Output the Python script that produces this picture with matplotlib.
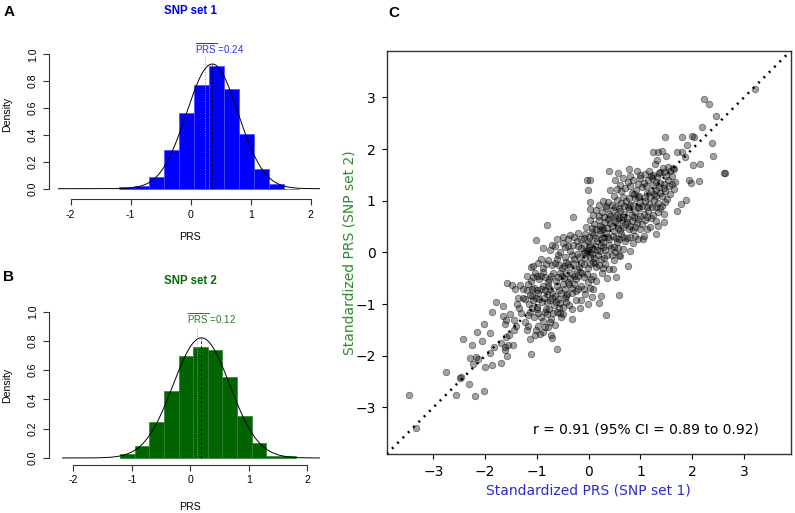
"""Two SNP-set PRS histograms (A, B) and the standardized PRS agreement scatter (C)."""
import numpy as np
import matplotlib.pyplot as plt

plt.rcParams["mathtext.fontset"] = "custom"
plt.rcParams["mathtext.rm"] = "Liberation Sans"

R_FONT = "Liberation Sans"

BIN_EDGES = [-1.2, -0.95, -0.7, -0.45, -0.2, 0.05, 0.3, 0.55, 0.8, 1.05, 1.3, 1.55, 1.8]
SET1_DENSITY = [0.01, 0.02, 0.09, 0.29, 0.565, 0.77, 0.91, 0.74, 0.405, 0.145, 0.037, 0.0]
SET2_DENSITY = [0.03, 0.08, 0.245, 0.46, 0.695, 0.755, 0.74, 0.555, 0.287, 0.10, 0.012, 0.012]
SET1_FIT = (0.36, 0.43)   # normal fit: mean, sd
SET2_FIT = (0.19, 0.486)
SET1_MEAN = 0.24
SET2_MEAN = 0.12

HIST_XTICKS = [-2, -1, 0, 1, 2]
HIST_XTICKLABELS = ["-2", "-1", "0", "1", "2"]
HIST_YTICKS = [0.0, 0.2, 0.4, 0.6, 0.8, 1.0]

# standardized PRS, (SNP set 1, SNP set 2) per individual
PRS_PAIRS = [
    # sparse upper-right
    (3.22, 3.16), (2.22, 2.96), (2.32, 2.88), (2.45, 2.63), (2.19, 2.43), (2.38, 2.11),
    (2.40, 1.86), (2.61, 1.54), (2.64, 1.54), (1.99, 2.25), (2.04, 2.23), (1.80, 2.23),
    (1.47, 2.23), (1.90, 2.07), (1.70, 1.95), (1.80, 1.95), (1.85, 1.85), (2.01, 1.70),
    (2.15, 1.71), (1.94, 1.40), (1.97, 1.35), (2.13, 1.38), (1.88, 1.01), (1.79, 0.94),
    (1.70, 0.81), (1.45, 0.59), (1.29, 0.35), (1.33, 0.51), (1.24, 1.94), (1.33, 1.95),
    (1.42, 1.97), (1.50, 1.87), (1.32, 1.79), (1.28, 1.71), (1.43, 1.64), (1.53, 1.66),
    (1.63, 1.64), (1.35, 1.53),
    # sparse lower-left
    (-3.46, -2.76), (-3.33, -3.39), (-2.76, -2.31), (-2.57, -2.76), (-2.48, -2.43),
    (-2.46, -2.42), (-2.31, -2.55), (-2.19, -2.77), (-2.03, -2.68), (-2.42, -1.68),
    (-2.25, -1.79), (-2.15, -1.54), (-2.03, -1.38), (-2.06, -1.72), (-2.30, -2.05),
    (-2.23, -2.16), (-2.17, -2.02), (-2.14, -2.07), (-2.01, -2.21), (-1.91, -1.94),
    (-1.86, -2.17), (-1.91, -1.55), (-1.83, -1.83), (-1.70, -2.13), (-1.79, -0.96),
    (-1.86, -1.15), (-1.66, -1.03), (-1.70, -1.76), (-1.61, -1.83), (-1.55, -1.79),
    (-1.62, -1.89), (-1.57, -2.01), (-1.47, -1.79), (-1.65, -1.23), (-1.59, -1.31),
    (-1.62, -1.39), (-1.52, -1.19), (-1.44, -1.31), (-1.59, -1.63), (-1.54, -1.59),
    (-1.41, -1.43), (-1.45, -1.50), (-1.34, -1.08), (-1.39, -0.99), (-1.57, -0.60),
    (-1.48, -0.63), (-1.43, -0.70), (-1.32, -0.63), (-1.26, -0.70), (-1.20, -0.73),
    (-1.36, -0.88), (-1.26, -0.88), (-1.30, -1.18), (-1.23, -1.34), (-1.20, -1.50),
    (-1.17, -1.43), (-1.12, -1.97), (-1.14, -1.68), (-1.04, -1.60), (-1.01, -1.50),
    (-0.94, -1.57), (-0.88, -1.54), (-0.78, -1.45), (-0.70, -1.66), (-0.72, -1.60),
    (-0.61, -1.87),
    # scattered off the band
    (-1.12, -0.28), (-1.08, -0.26), (-1.01, 0.24), (-0.81, 0.53), (-0.62, 0.26),
    (-0.49, 0.29), (-0.37, 0.34), (-0.31, 0.69), (-0.03, 1.40), (0.03, 1.40),
    (-0.02, 1.21), (0.03, 0.97), (0.03, 0.84), (0.40, 1.58), (0.34, -1.21),
    (0.06, -0.86), (0.19, -0.97), (0.59, -0.83), (0.52, -0.47), (0.75, -0.26),
    (0.46, -0.33), (0.61, -0.07), (0.80, 0.03), (1.05, 0.26), (-0.17, -1.08),
    (-0.33, -1.29), (-0.49, -1.20), (-0.55, -1.18), (-0.75, -1.34), (-0.65, -1.41),
    (-0.43, -0.84), (-0.33, -0.79), (-0.14, -0.92), (-0.01, -0.99), (0.24, -0.84),
    (0.09, -0.70),
    # dense band, top to bottom
    (0.57, 1.53), (0.77, 1.61), (0.93, 1.57), (1.09, 1.52), (1.17, 1.57), (1.25, 1.50),
    (1.38, 1.55), (1.46, 1.56), (1.57, 1.58), (1.64, 1.61),
    (0.80, 1.48), (1.00, 1.50), (1.20, 1.47), (1.32, 1.46), (1.50, 1.47), (1.60, 1.47),
    (0.51, 1.40), (0.67, 1.44), (0.75, 1.36), (0.86, 1.41), (0.99, 1.43), (1.06, 1.35),
    (1.14, 1.40), (1.22, 1.43), (1.30, 1.37), (1.37, 1.35), (1.45, 1.32), (1.53, 1.40),
    (1.61, 1.33), (1.67, 1.37), (1.45, 1.25),
    (0.60, 1.30), (0.80, 1.28), (0.95, 1.32), (1.10, 1.28), (1.25, 1.30), (1.35, 1.27),
    (1.55, 1.28),
    (0.41, 1.21), (0.54, 1.22), (0.62, 1.18), (0.70, 1.25), (0.83, 1.15), (0.91, 1.20),
    (1.03, 1.26), (1.12, 1.14), (1.21, 1.18), (1.30, 1.21), (1.38, 1.15), (1.48, 1.18),
    (1.56, 1.12), (1.65, 1.23), (1.41, 1.10), (1.52, 1.04),
    (0.48, 1.10), (0.66, 1.08), (0.78, 1.06), (0.88, 1.12), (0.98, 1.10), (1.08, 1.08),
    (1.18, 1.07), (1.30, 1.10), (1.26, 1.13),
    (0.28, 1.00), (0.38, 0.98), (0.45, 0.92), (0.54, 1.02), (0.62, 0.95), (0.72, 1.00),
    (0.80, 0.92), (0.90, 1.05), (0.95, 1.08), (0.99, 0.95), (1.09, 1.00), (1.17, 0.93),
    (1.26, 1.02), (1.33, 0.95), (1.41, 0.90), (1.48, 0.98), (0.96, 0.88),
    (0.20, 0.92), (0.33, 0.90), (0.50, 0.88), (0.58, 0.86), (0.68, 0.90), (0.75, 0.88),
    (0.86, 0.92), (1.02, 0.90), (1.12, 0.88), (1.22, 0.88), (1.30, 0.88),
    (0.15, 0.82), (0.25, 0.78), (0.34, 0.85), (0.40, 0.75), (0.46, 0.82), (0.54, 0.72),
    (0.61, 0.80), (0.68, 0.75), (0.77, 0.83), (0.83, 0.72), (0.90, 0.78), (0.98, 0.85),
    (1.06, 0.74), (1.15, 0.80), (1.25, 0.72), (1.33, 0.78), (1.45, 0.75), (1.38, 0.86),
    (0.08, 0.72), (0.20, 0.70), (0.30, 0.68), (0.42, 0.70), (0.50, 0.68), (0.58, 0.66),
    (0.66, 0.68), (0.74, 0.66), (0.88, 0.68), (1.00, 0.70), (1.12, 0.68), (1.20, 0.66),
    (0.03, 0.63), (0.10, 0.55), (0.19, 0.62), (0.25, 0.50), (0.32, 0.58), (0.38, 0.65),
    (0.45, 0.52), (0.51, 0.60), (0.57, 0.48), (0.64, 0.62), (0.70, 0.54), (0.77, 0.45),
    (0.83, 0.60), (0.90, 0.50), (0.96, 0.65), (1.03, 0.55), (1.09, 0.62), (1.19, 0.50),
    (1.29, 0.60), (0.28, 0.45), (0.61, 0.43), (0.86, 0.44), (1.12, 0.45),
    (-0.05, 0.50), (0.06, 0.48), (0.15, 0.45), (0.22, 0.52), (0.36, 0.48), (0.42, 0.56),
    (0.55, 0.55), (0.66, 0.50), (0.73, 0.58), (0.80, 0.52), (0.93, 0.56), (1.00, 0.45),
    (-0.28, 0.30), (-0.20, 0.38), (-0.14, 0.25), (-0.07, 0.35), (-0.01, 0.22), (0.06, 0.40),
    (0.12, 0.28), (0.21, 0.35), (0.27, 0.20), (0.34, 0.38), (0.40, 0.25), (0.46, 0.32),
    (0.54, 0.20), (0.62, 0.35), (0.70, 0.22), (0.79, 0.30), (0.86, 0.19), (0.96, 0.25),
    (1.06, 0.32), (0.03, 0.17), (0.48, 0.42), (0.22, 0.43),
    (-0.40, 0.25), (-0.22, 0.22), (-0.10, 0.28), (0.00, 0.30), (0.08, 0.34), (0.16, 0.22),
    (0.25, 0.28), (0.30, 0.30), (0.38, 0.30), (0.52, 0.28), (0.58, 0.25), (0.66, 0.30),
    (0.74, 0.28), (0.90, 0.32),
    (-0.70, 0.15), (-0.50, 0.18), (-0.40, 0.12), (-0.20, 0.12), (-0.10, 0.15), (0.00, 0.10),
    (0.08, 0.06), (0.16, 0.05), (0.24, 0.15), (0.32, 0.05), (0.40, 0.15), (0.48, 0.10),
    (0.56, 0.08),
    (-0.88, 0.08), (-0.75, 0.05), (-0.65, 0.12), (-0.55, 0.00), (-0.46, 0.10), (-0.37, 0.02),
    (-0.30, 0.14), (-0.23, -0.03), (-0.15, 0.08), (-0.07, -0.02), (-0.01, 0.05), (0.06, -0.04),
    (0.12, 0.12), (0.21, 0.02), (0.28, 0.10), (0.36, -0.05), (0.43, 0.08), (0.51, 0.00),
    (0.59, -0.06), (0.67, 0.07), (0.03, 0.00), (-0.04, 0.03),
    (-0.60, -0.05), (-0.45, -0.08), (-0.32, -0.05), (-0.18, -0.08), (-0.10, 0.00),
    (0.02, -0.08), (0.10, -0.10), (0.18, -0.05), (0.30, -0.10), (0.45, -0.05),
    (-0.97, -0.20), (-0.88, -0.30), (-0.78, -0.15), (-0.70, -0.25), (-0.62, -0.12),
    (-0.52, -0.30), (-0.44, -0.18), (-0.36, -0.28), (-0.28, -0.12), (-0.22, -0.33),
    (-0.14, -0.20), (-0.07, -0.10), (-0.01, -0.30), (0.08, -0.18), (0.15, -0.28),
    (0.23, -0.12), (0.32, -0.22), (0.40, -0.32), (0.48, -0.14),
    (-0.92, -0.12), (-0.82, -0.22), (-0.66, -0.20), (-0.58, -0.25), (-0.48, -0.26),
    (-0.40, -0.22), (-0.30, -0.20), (-0.18, -0.28), (-0.10, -0.22), (0.02, -0.22),
    (0.12, -0.20), (0.20, -0.25), (0.28, -0.30),
    (-1.20, -0.45), (-1.12, -0.55), (-1.04, -0.40), (-0.95, -0.52), (-0.88, -0.38),
    (-0.79, -0.58), (-0.72, -0.45), (-0.63, -0.55), (-0.55, -0.40), (-0.48, -0.50),
    (-0.39, -0.58), (-0.32, -0.42), (-0.25, -0.52), (-0.17, -0.38), (-0.09, -0.48),
    (-0.01, -0.58), (0.08, -0.45), (0.15, -0.55), (0.25, -0.40), (0.35, -0.50),
    (-1.08, -0.48), (-1.00, -0.45), (-0.92, -0.45), (-0.84, -0.48), (-0.76, -0.52),
    (-0.68, -0.40), (-0.60, -0.48), (-0.52, -0.45), (-0.44, -0.40), (-0.36, -0.50),
    (-0.28, -0.45), (-0.20, -0.45), (-0.12, -0.40), (-0.04, -0.42), (0.04, -0.52),
    (-1.14, -0.82), (-1.05, -0.68), (-0.97, -0.78), (-0.89, -0.65), (-0.81, -0.80),
    (-0.74, -0.70), (-0.65, -0.85), (-0.57, -0.72), (-0.49, -0.62), (-0.41, -0.80),
    (-0.33, -0.68), (-0.25, -0.75), (-0.15, -0.65), (-0.07, -0.80), (0.03, -0.68),
    (-1.18, -0.62), (-1.10, -0.70), (-1.00, -0.72), (-0.93, -0.70), (-0.85, -0.72),
    (-0.78, -0.65), (-0.70, -0.78), (-0.62, -0.65), (-0.53, -0.78), (-0.45, -0.70),
    (-0.38, -0.62), (-0.28, -0.62), (-0.20, -0.70), (-0.10, -0.70),
    (-1.23, -0.90), (-1.15, -1.00), (-1.07, -0.92), (-0.99, -1.05), (-0.91, -0.95),
    (-0.83, -1.10), (-0.75, -0.92), (-0.67, -1.02), (-0.59, -0.90), (-0.50, -1.05),
    (-0.43, -0.95), (-0.33, -1.10), (-0.25, -0.92),
    (-1.10, -0.85), (-1.02, -0.88), (-0.95, -0.90), (-0.87, -0.88), (-0.80, -0.95),
    (-0.71, -0.88), (-0.63, -0.95), (-0.55, -0.98), (-0.46, -0.88), (-0.38, -1.02),
    (-1.14, -1.15), (-1.06, -1.25), (-0.97, -1.18), (-0.89, -1.32), (-0.81, -1.20),
    (-0.72, -1.28), (-0.62, -1.15), (-0.54, -1.25),
    (-1.18, -1.22), (-1.10, -1.08), (-1.00, -1.10), (-0.93, -1.25), (-0.85, -1.15),
    (-0.77, -1.10), (-0.68, -1.18), (-0.58, -1.08),
    (-0.97, -1.42), (-0.85, -1.45),
]
R_TEXT = "r = 0.91 (95% CI = 0.89 to 0.92)"
C_TICKS = [-3, -2, -1, 0, 1, 2, 3]


def hist_panel(ax, density, fit, mean_val, bar_color, edge_color, mean_color,
               xlim, ylim, spine_out, label_xy, label_color):
    lefts = BIN_EDGES[:-1]
    widths = np.diff(BIN_EDGES)
    ax.bar(lefts, density, widths, align="edge", color=bar_color,
           edgecolor=edge_color, linewidth=0.5, zorder=2)
    mu, sd = fit
    xs = np.linspace(xlim[0], xlim[1], 400)
    pdf = np.exp(-0.5 * ((xs - mu) / sd) ** 2) / (sd * np.sqrt(2 * np.pi))
    ax.plot(xs, pdf, color="black", lw=0.7, zorder=3)
    peak = 1 / (sd * np.sqrt(2 * np.pi))
    ax.plot([mu, mu], [0, peak], color="black", lw=0.6, ls=(0, (3, 2.5)), zorder=3)
    ax.plot([mean_val, mean_val], [0, label_xy[1] - 0.06], color=mean_color,
            lw=0.7, ls=(0, (1, 1.5)), zorder=3)
    ax.text(label_xy[0], label_xy[1], r"$\overline{\mathrm{PRS}}$" + f" ={mean_val:.2f}",
            color=label_color, fontsize=7, family=R_FONT, ha="left", va="center")

    ax.set_xlim(*xlim)
    ax.set_ylim(*ylim)
    for side in ("top", "right"):
        ax.spines[side].set_visible(False)
    ax.spines["left"].set_position(("outward", spine_out))
    ax.spines["left"].set_bounds(0, 1)
    ax.spines["bottom"].set_bounds(-2, 2)
    for side in ("left", "bottom"):
        ax.spines[side].set_color("#333333")
        ax.spines[side].set_linewidth(0.8)
    ax.set_xticks(HIST_XTICKS)
    ax.set_xticklabels(HIST_XTICKLABELS, family=R_FONT, fontsize=7.6)
    ax.set_yticks(HIST_YTICKS)
    ax.set_yticklabels([f"{v:.1f}" for v in HIST_YTICKS], family=R_FONT, fontsize=7.6,
                       rotation=90, va="center")
    ax.tick_params(length=4.3, width=0.8, color="#333333", pad=3)
    ax.tick_params(axis="y", pad=4)
    ax.patch.set_visible(False)


def main():
    fig = plt.figure(figsize=(7.95, 5.13), dpi=100)

    # A: SNP set 1
    ax_a = fig.add_axes([0.0731, 0.6112, 0.3298, 0.2987])
    hist_panel(ax_a, SET1_DENSITY, SET1_FIT, SET1_MEAN, "#0000ff", "#4a4aff", "#8c8cff",
               (-2.21, 2.16), (-0.08, 1.06), 6.3, (0.07, 1.045), "#3030dd")
    fig.text(0.239, 0.9786, "SNP set 1", color="#0000ee", fontsize=8.3, weight="bold",
             family=R_FONT, ha="center", va="center")
    fig.text(0.004, 0.990, "A", fontsize=11, weight="bold", family=R_FONT, va="top")
    fig.text(0.0088, 0.7772, "Density", fontsize=7.6, family=R_FONT, rotation=90,
             ha="center", va="center")
    fig.text(0.239, 0.5386, "PRS", fontsize=7.6, family=R_FONT, ha="center", va="center")

    # B: SNP set 2
    ax_b = fig.add_axes([0.0775, 0.0936, 0.3245, 0.3103])
    hist_panel(ax_b, SET2_DENSITY, SET2_FIT, SET2_MEAN, "#006400", "#2f7f2f", "#86a886",
               (-2.2, 2.21), (-0.048, 1.04), 8.9, (-0.06, 0.955), "#2a7a2a")
    fig.text(0.239, 0.4522, "SNP set 2", color="#0b6b0b", fontsize=8.3, weight="bold",
             family=R_FONT, ha="center", va="center")
    fig.text(0.004, 0.4737, "B", fontsize=11, weight="bold", family=R_FONT, va="top")
    fig.text(0.0088, 0.2495, "Density", fontsize=7.6, family=R_FONT, rotation=90,
             ha="center", va="center")
    fig.text(0.239, 0.0123, "PRS", fontsize=7.6, family=R_FONT, ha="center", va="center")

    # C: standardized PRS agreement
    ax_c = fig.add_axes([0.4864, 0.115, 0.5082, 0.786])
    xs = [p[0] for p in PRS_PAIRS]
    ys = [p[1] for p in PRS_PAIRS]
    ax_c.scatter(xs, ys, s=22, facecolor=(0, 0, 0, 0.36), edgecolor=(0, 0, 0, 0.45),
                 linewidths=0.6, zorder=2)
    ax_c.plot([-3.9, 3.9], [-3.9, 3.9], color="black", lw=1.8, ls=(0, (0.8, 2.2)), zorder=3)
    ax_c.text(-1.08, -3.5, R_TEXT, fontsize=10, va="baseline")
    ax_c.set_xlim(-3.9, 3.9)
    ax_c.set_ylim(-3.9, 3.9)
    ax_c.set_xticks(C_TICKS)
    ax_c.set_yticks(C_TICKS)
    ax_c.tick_params(labelsize=10, length=3.5, width=0.8, pad=4.5)
    for sp in ax_c.spines.values():
        sp.set_color("#333333")
        sp.set_linewidth(1.0)
    ax_c.set_xlabel("Standardized PRS (SNP set 1)", color="#2b2bd0", fontsize=10)
    ax_c.set_ylabel("Standardized PRS (SNP set 2)", color="#2e8b2e", fontsize=10)
    ax_c.xaxis.set_label_coords(0.5, -0.072)
    ax_c.yaxis.set_label_coords(-0.075, 0.5)
    fig.text(0.488, 0.988, "C", fontsize=11, weight="bold", family=R_FONT, va="top")

    fig.savefig("out.png", dpi=100)


if __name__ == "__main__":
    main()
